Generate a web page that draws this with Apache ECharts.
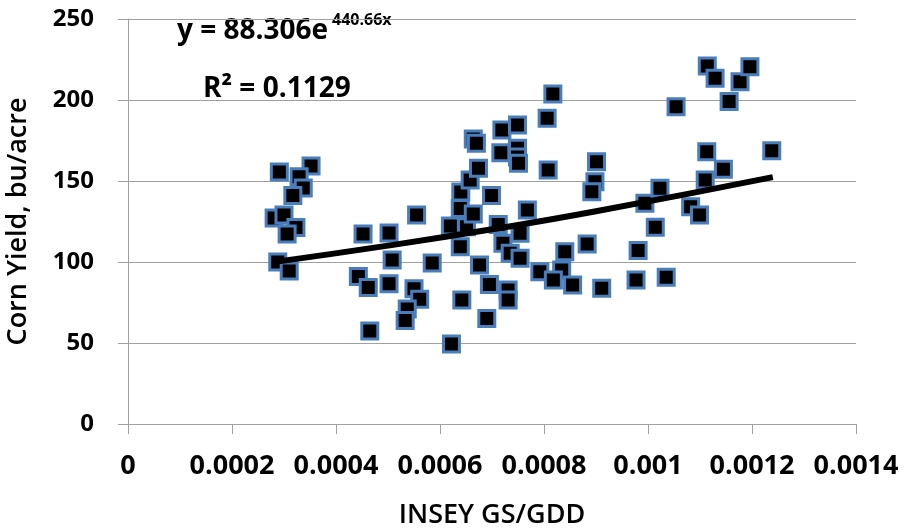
<!DOCTYPE html>
<html>
<head>
<meta charset="utf-8">
<title>Corn Yield vs INSEY</title>
<script src="https://cdn.jsdelivr.net/npm/echarts@6/dist/echarts.min.js"></script>
<style>
  html, body { margin: 0; padding: 0; background: #fff; }
  #chart { width: 905px; height: 529px; }
</style>
</head>
<body>
<div id="chart"></div>
<script>
// INSEY (GS/GDD) and corn yield (bu/acre)
const insey = [
  0.000291, 0.000352, 0.000329, 0.000337, 0.000317, 0.000281, 0.000300, 0.000323, 0.000306, 0.000288,
  0.000310, 0.000452, 0.000443, 0.000462, 0.000465, 0.000502, 0.000508, 0.000502, 0.000555, 0.000550,
  0.000561, 0.000537, 0.000533, 0.000585, 0.000622, 0.000642, 0.000620, 0.000651, 0.000639, 0.000640,
  0.000658, 0.000674, 0.000664, 0.000670, 0.000664, 0.000639, 0.000676, 0.000695, 0.000690, 0.000699,
  0.000719, 0.000749, 0.000717, 0.000749, 0.000749, 0.000751, 0.000712, 0.000754, 0.000721, 0.000735,
  0.000754, 0.000731, 0.000731, 0.000768, 0.000792, 0.000817, 0.000806, 0.000808, 0.000840, 0.000834,
  0.000818, 0.000855, 0.000883, 0.000901, 0.000898, 0.000892, 0.000911, 0.000977, 0.000981, 0.000994,
  0.001014, 0.001023, 0.001035, 0.001054, 0.001082, 0.001099, 0.001110, 0.001113, 0.001145, 0.001156,
  0.001114, 0.001129, 0.001177, 0.001196, 0.001238
];
const yieldBu = [
  155.6, 159.3, 152.7, 145.7, 141.0, 127.2, 129.0, 121.3, 117.3, 100.0,
  94.4, 117.3, 91.0, 84.3, 57.4, 117.9, 101.2, 86.6, 129.0, 83.5,
  77.0, 71.0, 63.9, 99.4, 49.4, 76.5, 122.2, 121.8, 133.1, 143.2,
  150.6, 157.8, 176.0, 173.3, 129.6, 109.4, 98.1, 86.1, 65.2, 141.0,
  181.5, 184.6, 167.5, 170.2, 164.8, 160.9, 123.1, 117.7, 111.5, 105.4,
  102.3, 82.7, 76.5, 132.1, 94.0, 203.7, 188.7, 156.8, 106.4, 95.1,
  88.9, 85.8, 111.1, 161.9, 149.6, 143.4, 83.8, 88.9, 107.1, 136.2,
  121.4, 145.5, 90.6, 195.9, 134.1, 129.0, 150.6, 168.1, 157.2, 199.0,
  221.0, 213.4, 211.3, 220.6, 168.7
];

// exponential trendline, points
const trendX = [0.00029, 0.0005, 0.0007, 0.0009, 0.00124];
const trendY = [100.4, 110.1, 120.2, 131.3, 152.4];

const xTickLabels = ['0', '0.0002', '0.0004', '0.0006', '0.0008', '0.001', '0.0012', '0.0014'];
const yTickLabels = ['0', '50', '100', '150', '200', '250'];

const FONT = '"Open Sans", "Liberation Sans", sans-serif';
const GRID_COLOR = '#a0a0a0';

const chart = echarts.init(document.getElementById('chart'), null, { renderer: 'canvas' });

chart.setOption({
  backgroundColor: '#ffffff',
  animation: false,
  grid: { left: 128, right: 49, top: 19, bottom: 105, outerBoundsMode: 'none', containLabel: false },
  xAxis: {
    type: 'value',
    min: 0,
    max: 0.0014,
    interval: 0.0002,
    name: 'INSEY GS/GDD',
    nameLocation: 'middle',
    nameGap: 78,
    nameTextStyle: { fontFamily: FONT, fontSize: 27, fontWeight: 600, color: '#000' },
    axisLine: { show: true, lineStyle: { color: GRID_COLOR, width: 1 } },
    axisTick: { show: true, length: 10, lineStyle: { color: GRID_COLOR } },
    splitLine: { show: false },
    axisLabel: {
      margin: 29,
      fontFamily: FONT,
      fontSize: 27,
      fontWeight: 'bold',
      color: '#000',
      formatter: (v, i) => xTickLabels[i]
    }
  },
  yAxis: {
    type: 'value',
    min: 0,
    max: 250,
    interval: 50,
    name: 'Corn Yield, bu/acre',
    nameLocation: 'middle',
    nameGap: 96,
    nameTextStyle: { fontFamily: FONT, fontSize: 27, fontWeight: 600, color: '#000' },
    axisLine: { show: true, lineStyle: { color: GRID_COLOR, width: 1 } },
    axisTick: { show: true, length: 10, lineStyle: { color: GRID_COLOR } },
    splitLine: { show: true, lineStyle: { color: GRID_COLOR, width: 1 } },
    axisLabel: {
      margin: 34,
      fontFamily: FONT,
      fontSize: 24,
      fontWeight: 'bold',
      color: '#000',
      formatter: (v, i) => yTickLabels[i]
    }
  },
  graphic: [
    {
      type: 'text',
      left: 177,
      top: 17,
      style: { text: 'y = 88.306e', fontFamily: FONT, fontSize: 28, fontWeight: 'bold', fill: '#000' }
    },
    {
      type: 'text',
      left: 332,
      top: 12,
      style: { text: '440.66x', fontFamily: FONT, fontSize: 16, fontWeight: 'bold', fill: '#000' }
    },
    {
      type: 'text',
      left: 203,
      top: 75,
      style: { text: 'R² = 0.1129', fontFamily: FONT, fontSize: 28, fontWeight: 'bold', fill: '#000' }
    }
  ],
  series: [
    {
      type: 'scatter',
      data: insey.map((x, i) => [x, yieldBu[i]]),
      symbol: 'rect',
      symbolSize: 16,
      itemStyle: {
        color: '#000000',
        opacity: 1,
        borderColor: '#4a7ebb',
        borderWidth: 3
      },
      z: 2
    },
    {
      type: 'line',
      data: trendX.map((x, i) => [x, trendY[i]]),
      showSymbol: false,
      smooth: true,
      lineStyle: { color: '#000000', width: 6 },
      z: 3
    }
  ]
});
</script>
</body>
</html>
